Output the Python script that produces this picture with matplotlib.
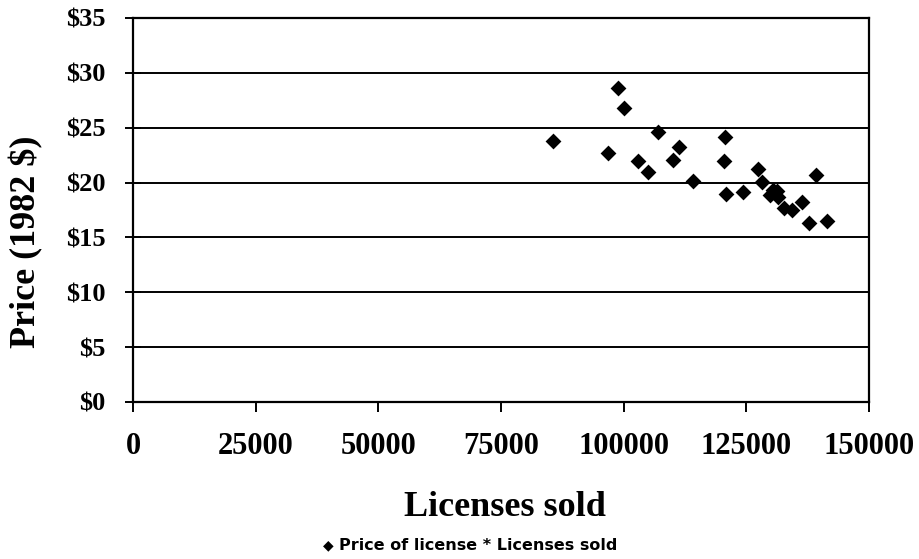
import numpy as np
import matplotlib.pyplot as plt
from matplotlib import font_manager

licenses = [85500, 98900, 100100, 96900, 103000, 105000, 106900, 111200,
            110100, 114200, 120700, 120400, 120800, 124400, 127400, 128200,
            130400, 131200, 129800, 131400, 132700, 134400, 136300, 137700,
            139100, 141400]
price = [23.75, 28.65, 26.8, 22.65, 21.95, 20.95, 24.6, 23.25,
         22.1, 20.1, 24.15, 22.0, 18.95, 19.1, 21.25, 20.05,
         19.35, 19.2, 18.9, 18.65, 17.65, 17.5, 18.25, 16.3,
         20.65, 16.45]

x_ticks = [0, 25000, 50000, 75000, 100000, 125000, 150000]
y_ticks = [0, 5, 10, 15, 20, 25, 30, 35]
y_tick_labels = ["$%d" % v for v in y_ticks]

serif = "Liberation Serif"
names = {f.name for f in font_manager.fontManager.ttflist}
legend_font = "Liberation Sans Narrow" if "Liberation Sans Narrow" in names else "DejaVu Sans"

fig = plt.figure(figsize=(9.19, 5.59), dpi=100)
ax = fig.add_axes([0.1447, 0.281, 0.8009, 0.6868])

ax.scatter(licenses, price, marker="D", s=65, color="black", zorder=3,
           linewidths=0)

ax.set_xlim(0, 150000)
ax.set_ylim(0, 35)
ax.set_xticks(x_ticks)
ax.set_xticklabels([str(v) for v in x_ticks])
ax.set_yticks(y_ticks)
ax.set_yticklabels(y_tick_labels)

for lab in ax.get_xticklabels():
    lab.set_fontfamily(serif)
    lab.set_fontweight("bold")
    lab.set_fontsize(22)
for lab in ax.get_yticklabels():
    lab.set_fontfamily(serif)
    lab.set_fontweight("bold")
    lab.set_fontsize(19)

ax.yaxis.grid(True, color="black", linewidth=1.4)
ax.set_axisbelow(True)
ax.tick_params(axis="y", direction="inout", length=12, width=1.4, pad=14)
ax.tick_params(axis="x", direction="out", length=7, width=1.4, pad=15)
for s in ax.spines.values():
    s.set_linewidth(1.6)
    s.set_color("black")

ax.set_xlabel("Licenses sold", fontfamily=serif, fontweight="bold",
              fontsize=26)
ax.xaxis.set_label_coords(0.505, -0.232)
ax.set_ylabel("Price (1982 $)", fontfamily=serif, fontweight="bold",
              fontsize=26)
ax.yaxis.set_label_coords(-0.122, 0.416)

# legend line under the x label
fig.text(0.357, 0.025, "\u25c6", fontsize=10, ha="center", va="center",
         fontfamily="DejaVu Sans")
fig.text(0.369, 0.025, "Price of license * Licenses sold", fontsize=11.5,
         fontweight="bold", fontfamily=legend_font, ha="left", va="center")

fig.savefig("out.png", dpi=100)
